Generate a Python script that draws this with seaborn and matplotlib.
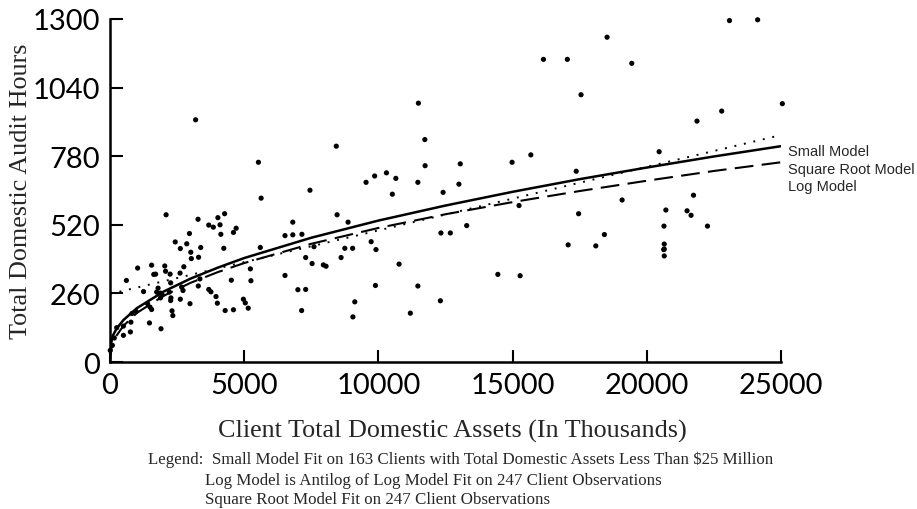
import matplotlib
matplotlib.use("Agg")
import matplotlib.pyplot as plt
import seaborn as sns
import pandas as pd

# ---------------- data ----------------
assets = [3190, 5530, 8430, 5630, 7450, 9540, 9860, 10300, 10650, 10520,
          2090, 3280, 4020, 4270, 3680, 3850, 4100, 2960, 4700, 4600,
          4130, 2430, 2860, 2620, 3010, 3380, 3300, 3030, 4240, 6810,
          6520, 6810, 7150, 8460, 8870, 9730, 9910, 9040, 8750, 8610,
          10770, 7290, 7530, 7950, 8050, 5600, 5230, 5250, 6520, 7000,
          7290, 9890, 9120, 7140, 9050, 4520, 4970, 5040, 5150, 4600,
          4290, 3950, 4000, 3680, 3760, 3350, 3290, 2980, 2670, 2720,
          2620, 2310, 2340, 2210, 2270, 2260, 1900, 1470, 1490, 1550,
          1400, 1250, 1030, 610, 1550, 1630, 1700, 2040, 2070, 2610,
          2750, 2240, 2260, 1790, 1740, 1880, 1950, 1880, 760, 500,
          500, 780, 820, 970, 250, 160, 90, 10,
          7600, 11190,
          11490, 11730, 11740, 11470, 13050, 13000, 12410, 14980, 15680, 15240,
          13290, 12330, 12680, 14450, 15280, 11470, 12310,
          17460, 17070, 18100, 18420, 19080, 20710, 20640, 20650, 20650, 20630,
          20650,
          23080, 24130, 18520, 17040, 16150, 19440, 17550, 17370, 20460, 22790,
          21870, 25050, 21500, 21650, 22260, 21740]
hours = [918, 757, 818, 621, 651, 681, 705, 717, 696, 636,
         558, 541, 547, 562, 519, 511, 520, 487, 507, 491,
         484, 455, 448, 430, 416, 434, 397, 392, 431, 530,
         479, 482, 484, 558, 530, 456, 426, 431, 431, 396,
         371, 396, 373, 368, 363, 434, 353, 308, 328, 274,
         275, 290, 228, 195, 171, 310, 238, 224, 204, 198,
         195, 248, 223, 275, 266, 315, 288, 221, 284, 271,
         238, 194, 176, 265, 243, 233, 126, 148, 208, 199,
         221, 267, 356, 309, 367, 332, 333, 364, 344, 337,
         361, 333, 300, 280, 265, 261, 254, 243, 114, 101,
         136, 151, 184, 192, 130, 91, 63, 44,
         437, 185,
         981, 843, 744, 681, 751, 674, 643, 757, 785, 593,
         517, 489, 489, 332, 327, 288, 232,
         562, 444, 440, 483, 614, 576, 515, 447, 428, 426,
         402,
         1294, 1297, 1231, 1147, 1147, 1132, 1013, 723, 797, 951,
         913, 979, 573, 556, 515, 632]

sqrt_x = [0, 100, 250, 500, 1000, 2000, 3000, 4000, 5000, 7500, 10000,
          12500, 15000, 17500, 20000, 22500, 25000]
sqrt_y = [50, 99, 127, 159, 204, 267, 316, 357, 394, 471, 536,
          593, 645, 693, 737, 779, 818]

log_x = [0, 50, 100, 250, 500, 1000, 2000, 3000, 4000, 5000, 7500, 10000,
         12500, 15000, 17500, 20000, 22500, 25000]
log_y = [0, 50, 68, 101, 137, 186, 251, 300, 340, 375, 448, 508,
         560, 606, 648, 687, 724, 757]

small_x = [0, 25000]
small_y = [258, 860]

x_ticks = [0, 5000, 10000, 15000, 20000, 25000]
y_ticks = [0, 260, 520, 780, 1040, 1300]

curve_labels = ["Small Model", "Square Root Model", "Log Model"]
legend_lines = [
    "Legend:  Small Model Fit on 163 Clients with Total Domestic Assets Less Than $25 Million",
    "Log Model is Antilog of Log Model Fit on 247 Client Observations",
    "Square Root Model Fit on 247 Client Observations",
]

# ---------------- styling ----------------
sns.set_style("ticks")
plt.rcParams["font.family"] = ["DejaVu Sans"]

fig = plt.figure(figsize=(9.17, 5.10), dpi=100)
ax = fig.add_axes([110 / 917, 1 - 363 / 510, (781 - 110) / 917, (363 - 20) / 510])

df = pd.DataFrame({"assets": assets, "hours": hours})
sns.scatterplot(data=df, x="assets", y="hours", ax=ax, color="black",
                s=14, edgecolor="none", linewidth=0, clip_on=False, zorder=3)

sns.lineplot(x=sqrt_x, y=sqrt_y, ax=ax, color="black", linewidth=1.8,
             linestyle="-", zorder=4)
sns.lineplot(x=log_x, y=log_y, ax=ax, color="black", linewidth=1.5,
             linestyle=(0, (9, 4)), zorder=4)
sns.lineplot(x=small_x, y=small_y, ax=ax, color="black", linewidth=1.4,
             linestyle=(0, (1, 4)), zorder=4)

ax.set_xlim(0, 25000)
ax.set_ylim(0, 1300)
ax.set_xticks(x_ticks)
ax.set_yticks(y_ticks)
ax.set_xticklabels([str(t) for t in x_ticks])
ax.set_yticklabels([str(t) for t in y_ticks])
ax.tick_params(axis="both", direction="in", length=9, width=1.5,
               colors="black", labelsize=21, pad=7)
for lab in ax.get_xticklabels() + ax.get_yticklabels():
    lab.set_fontfamily(["Lato", "DejaVu Sans"])
    lab.set_fontweight("normal")

for side in ["top", "right"]:
    ax.spines[side].set_visible(False)
for side in ["left", "bottom"]:
    ax.spines[side].set_linewidth(1.8)
    ax.spines[side].set_color("black")

ax.set_xlabel("Client Total Domestic Assets (In Thousands)",
              fontfamily="Liberation Serif", fontsize=18.8)
ax.set_ylabel("Total Domestic Audit Hours",
              fontfamily="Liberation Serif", fontsize=18.8)
ax.xaxis.set_label_coords(0.51, -0.2)
ax.yaxis.set_label_coords(-0.133, 0.5)
ax.xaxis.label.set_va("center")
ax.yaxis.label.set_va("center")

# curve labels at the right end
label_y_px = [152, 170, 187]
for txt, ypx in zip(curve_labels, label_y_px):
    fig.text(788 / 917, 1 - ypx / 510, txt, fontfamily="Liberation Sans",
             fontsize=10.5, ha="left", va="center")

# explanatory legend text below the chart
fig.text(148 / 917, 1 - 460 / 510, legend_lines[0], fontfamily="Liberation Serif",
         fontsize=12.2, ha="left", va="center")
fig.text(205 / 917, 1 - 481 / 510, legend_lines[1], fontfamily="Liberation Serif",
         fontsize=12.2, ha="left", va="center")
fig.text(205 / 917, 1 - 500 / 510, legend_lines[2], fontfamily="Liberation Serif",
         fontsize=12.2, ha="left", va="center")

fig.savefig("out.png", dpi=100)
